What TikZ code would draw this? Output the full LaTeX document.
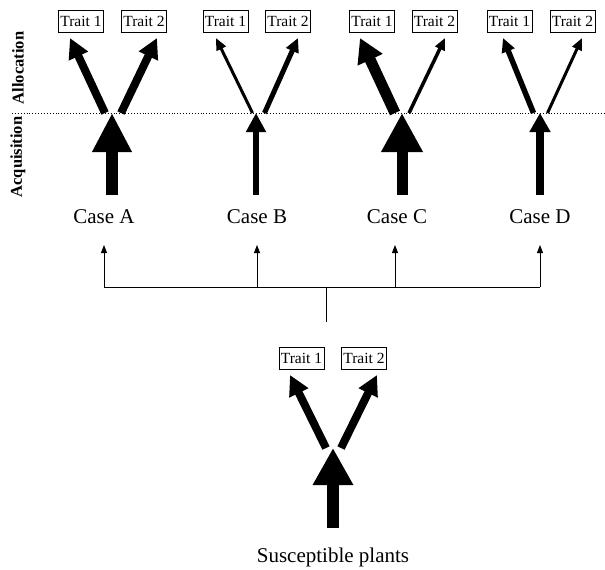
\documentclass[tikz,border=0pt]{standalone}
\usepackage{fontspec}
\setmainfont{Liberation Serif}
\usetikzlibrary{arrows.meta}
\begin{document}
\begin{tikzpicture}[x=1pt,y=-1pt,
  trait/.style={draw,line width=0.8pt,font=\fontsize{15.5}{17}\selectfont,inner xsep=2pt,inner ysep=0pt,minimum height=22pt},
  casel/.style={font=\fontsize{21}{24}\selectfont,anchor=base,inner sep=0pt},
  axisl/.style={font=\fontsize{16.5}{18}\selectfont\bfseries,rotate=90},
  fat/.style n args={3}{line width=#1,-{Triangle[width=#2,length=#3]}},
  thinarrow/.style={line width=0.9pt,-{Triangle[width=6pt,length=8pt]}},
  branch/.style={line width=0.9pt}]
\useasboundingbox (0,0) rectangle (605,570);

% axis labels and separator
\node[axisl] (alloc) at (18,68) {Allocation};
\node[axisl] (acq) at (18,157) {Acquisition};
\coordinate (dl) at (12,113);
\coordinate (dr) at (605,113);
\draw[dotted,line width=0.9pt] (dl) -- (dr);

% trait boxes
\node[trait] (a1) at (81,21.5) {Trait 1};
\node[trait] (a2) at (144,21.5) {Trait 2};
\node[trait] (b1) at (225.5,21.5) {Trait 1};
\node[trait] (b2) at (288,21.5) {Trait 2};
\node[trait] (c1) at (372,21.5) {Trait 1};
\node[trait] (c2) at (434.5,21.5) {Trait 2};
\node[trait] (d1) at (509.5,21.5) {Trait 1};
\node[trait] (d2) at (572.5,21.5) {Trait 2};
\node[trait] (s1) at (301.5,358) {Trait 1};
\node[trait] (s2) at (364,358) {Trait 2};

% tips of allocation arrows
\coordinate (ta1) at (70,38);  \coordinate (ta2) at (157,38);
\coordinate (tb1) at (216,38); \coordinate (tb2) at (298,38);
\coordinate (tc1) at (360,38); \coordinate (tc2) at (445,38);
\coordinate (td1) at (503,38); \coordinate (td2) at (582,38);
\coordinate (ts1) at (290,375); \coordinate (ts2) at (377,375);
% starts of allocation arrows
\coordinate (sa1) at (105,113); \coordinate (sa2) at (121,113);
\coordinate (sb1) at (252.5,113); \coordinate (sb2) at (264.5,113);
\coordinate (sc1) at (395,113); \coordinate (sc2) at (409,113);
\coordinate (sd1) at (533.5,113); \coordinate (sd2) at (547.5,113);
\coordinate (ss1) at (326,448); \coordinate (ss2) at (341,448);
% junctions (acquisition tips) and acquisition bases
\coordinate (ja) at (112,113); \coordinate (ba) at (112,195);
\coordinate (jb) at (256,113); \coordinate (bb) at (256,195);
\coordinate (jc) at (402,113); \coordinate (bc) at (402,195);
\coordinate (jd) at (540,113); \coordinate (bd) at (540,195);
\coordinate (js) at (333,448); \coordinate (bs) at (333,528);

% allocation arrows
\draw[fat={8pt}{20pt}{20pt}] (sa1) -- (ta1);
\draw[fat={8pt}{20pt}{20pt}] (sa2) -- (ta2);
\draw[fat={3pt}{10pt}{12pt}] (sb1) -- (tb1);
\draw[fat={5pt}{13pt}{14pt}] (sb2) -- (tb2);
\draw[fat={11pt}{26pt}{24pt}] (sc1) -- (tc1);
\draw[fat={3.5pt}{10pt}{12pt}] (sc2) -- (tc2);
\draw[fat={5.5pt}{13pt}{14pt}] (sd1) -- (td1);
\draw[fat={3pt}{10pt}{12pt}] (sd2) -- (td2);
\draw[fat={8pt}{20pt}{20pt}] (ss1) -- (ts1);
\draw[fat={8pt}{20pt}{20pt}] (ss2) -- (ts2);

% acquisition arrows
\draw[fat={12pt}{37pt}{39pt}] (ba) -- (ja);
\draw[fat={6pt}{19pt}{19pt}] (bb) -- (jb);
\draw[fat={11pt}{39pt}{39pt}] (bc) -- (jc);
\draw[fat={8pt}{20pt}{19pt}] (bd) -- (jd);
\draw[fat={12pt}{38pt}{37pt}] (bs) -- (js);

% case labels
\node[casel] (caseA) at (104,223) {Case A};
\node[casel] (caseB) at (257,223) {Case B};
\node[casel] (caseC) at (397,223) {Case C};
\node[casel] (caseD) at (540,223) {Case D};
\node[casel] (susc) at (333,562) {Susceptible plants};

% distribution tree
\coordinate (ha) at (104,287); \coordinate (ua) at (104,245);
\coordinate (hb) at (257,287); \coordinate (ub) at (257,245);
\coordinate (hc) at (395,287); \coordinate (uc) at (395,245);
\coordinate (hd) at (540,287); \coordinate (ud) at (540,245);
\coordinate (hm) at (326,287); \coordinate (stem) at (326,322);
\draw[branch] (ha) -- (hd);
\draw[branch] (stem) -- (hm);
\draw[thinarrow] (ha) -- (ua);
\draw[thinarrow] (hb) -- (ub);
\draw[thinarrow] (hc) -- (uc);
\draw[thinarrow] (hd) -- (ud);
\end{tikzpicture}
\end{document}
